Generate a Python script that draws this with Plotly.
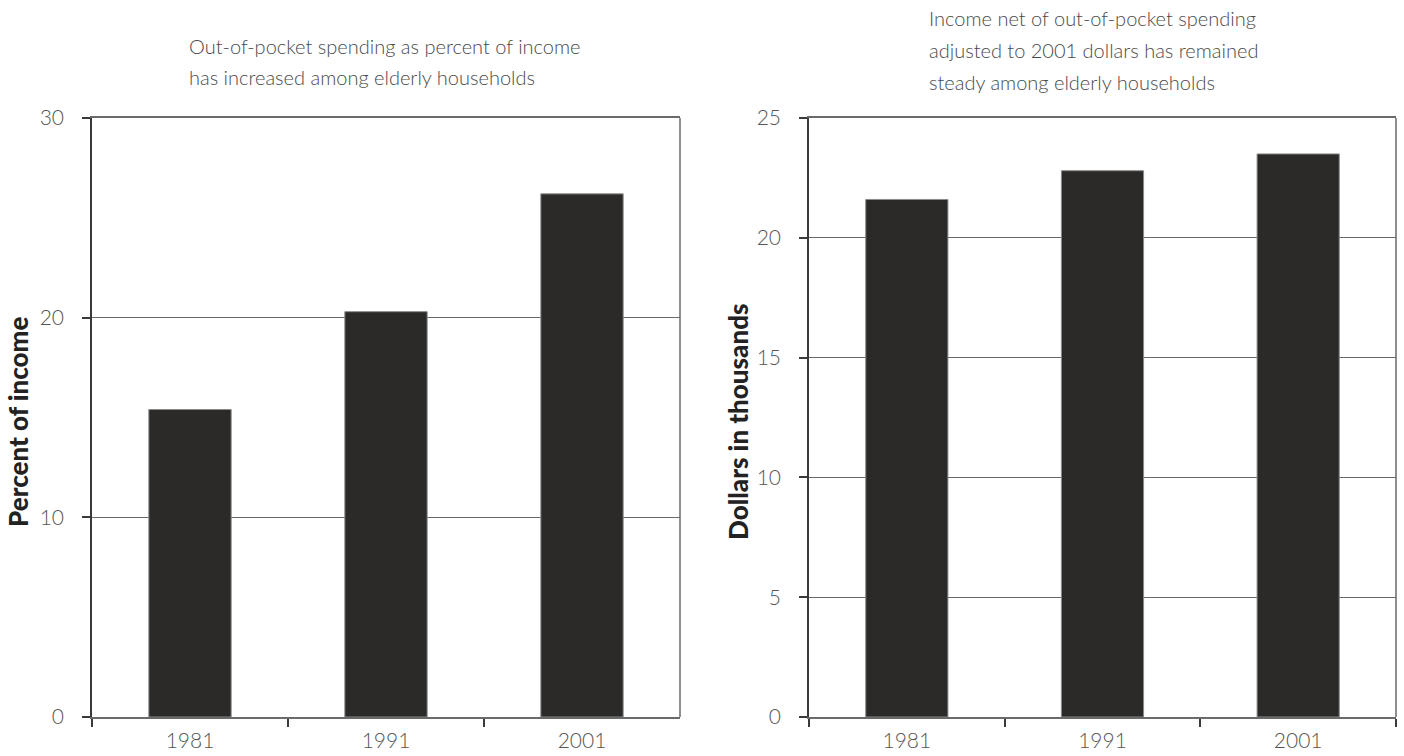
import plotly.graph_objects as go
from plotly.subplots import make_subplots

# Data
years = ["1981", "1991", "2001"]
pct_of_income = [15.4, 20.3, 26.2]          # out-of-pocket spending, % of income
net_income_thousands = [21.6, 22.8, 23.5]   # net income, thousands of 2001 dollars

left_ticks = [0, 10, 20, 30]
right_ticks = [0, 5, 10, 15, 20, 25]

left_title = ["Out-of-pocket spending as percent of income",
              "has increased among elderly households"]
right_title = ["Income net of out-of-pocket spending",
               "adjusted to 2001 dollars has remained",
               "steady among elderly households"]
left_ylabel = "Percent of income"
right_ylabel = "Dollars in thousands"

# Canvas and styling
W, H = 1404, 756
BAR = "#2b2a28"
GRID = "#6a6a6a"
AXIS = "#3a3a3a"
TEXT = "#555555"
LIGHT = dict(family="Lato, 'Open Sans', sans-serif", size=21, color=TEXT, weight=300)


def px(x):
    return x / W


def py(y):
    return 1 - y / H


fig = make_subplots(rows=1, cols=2)

for col, vals in ((1, pct_of_income), (2, net_income_thousands)):
    fig.add_trace(
        go.Bar(x=years, y=vals, width=0.42,
               marker=dict(color=BAR, line=dict(color="#8a8a8a", width=1)),
               showlegend=False, hoverinfo="x+y"),
        row=1, col=col,
    )

y_dom = [py(717), py(118)]
fig.update_layout(
    width=W, height=H,
    margin=dict(l=0, r=0, t=0, b=0, autoexpand=False),
    paper_bgcolor="white", plot_bgcolor="white",
    font=LIGHT,
    xaxis=dict(domain=[px(92), px(680)]),
    xaxis2=dict(domain=[px(809), px(1396)]),
    yaxis=dict(domain=y_dom, range=[0, 30], tickvals=left_ticks),
    yaxis2=dict(domain=y_dom, range=[0, 25], tickvals=right_ticks),
)

fig.update_xaxes(
    showline=True, linecolor=GRID, linewidth=1.5, mirror=True,
    ticks="outside", tickson="boundaries", ticklen=8, tickwidth=1.5,
    tickcolor=AXIS, showgrid=False, tickfont=LIGHT, ticklabelstandoff=4,
    fixedrange=True, automargin=False,
)
fig.update_yaxes(
    showline=True, linecolor=AXIS, linewidth=1.5, mirror=False,
    ticks="outside", ticklen=8, tickwidth=1.5, tickcolor=AXIS,
    showgrid=True, gridcolor=GRID, gridwidth=1.2, zeroline=False,
    tickfont=LIGHT, ticklabelstandoff=14, fixedrange=True, automargin=False,
)

# right-hand border of each plot box
for xref in ("x domain", "x2 domain"):
    yref = "y domain" if xref == "x domain" else "y2 domain"
    fig.add_shape(type="line", xref=xref, yref=yref, x0=1, x1=1, y0=0, y1=1,
                  line=dict(color=GRID, width=1.5))

SUB = dict(family="Lato, 'Open Sans', sans-serif", size=20, color="#4a4a4a", weight=300)
for i, line in enumerate(left_title):
    fig.add_annotation(x=px(187), y=py(46 + 31 * i), xref="paper", yref="paper",
                       text=line, showarrow=False, xanchor="left", yanchor="middle",
                       font=SUB)
for i, line in enumerate(right_title):
    fig.add_annotation(x=px(927), y=py(18 + 32 * i), xref="paper", yref="paper",
                       text=line, showarrow=False, xanchor="left", yanchor="middle",
                       font=SUB)

BOLD = dict(family="Lato, 'DejaVu Sans', sans-serif", size=26, color="#222222", weight=900)
for xpix, label in ((18, left_ylabel), (738, right_ylabel)):
    fig.add_annotation(x=px(xpix), y=py(422), xref="paper", yref="paper",
                       text=label, textangle=-90, showarrow=False,
                       xanchor="center", yanchor="middle", font=BOLD)

fig.write_html("out.html")
